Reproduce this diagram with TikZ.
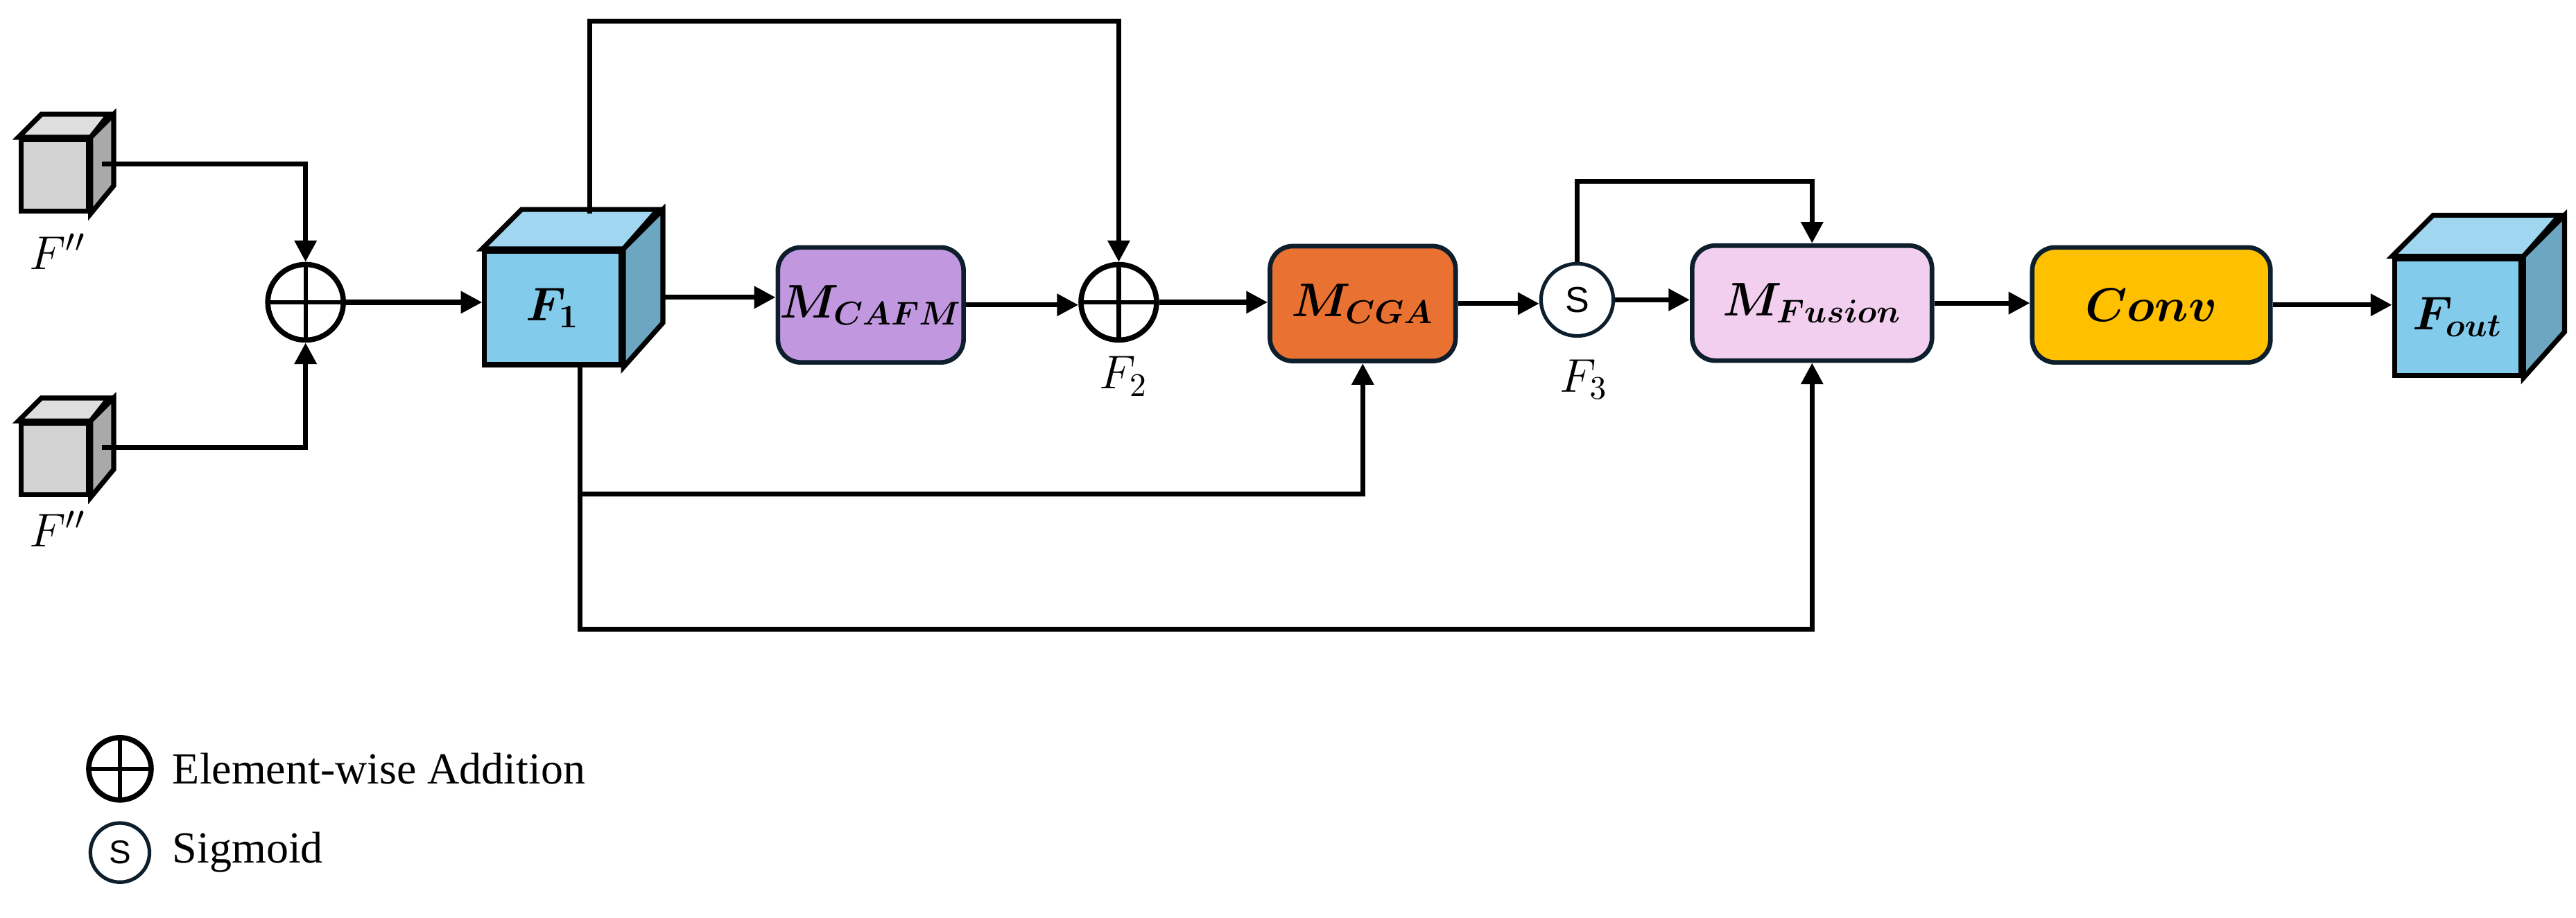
\documentclass[tikz,border=0pt]{standalone}
\usepackage{fontspec}
\usepackage{amsmath}
\setmainfont{Liberation Serif}
\newfontfamily\sansf{Liberation Sans}
\usetikzlibrary{arrows.meta,calc}
\definecolor{navy}{HTML}{0D1F2D}
\definecolor{grayf}{HTML}{D3D3D3}\definecolor{grayt}{HTML}{DEDEDE}\definecolor{grayr}{HTML}{A9A9A9}
\definecolor{bluef}{HTML}{83CBEB}\definecolor{bluet}{HTML}{A0D6EF}\definecolor{bluer}{HTML}{6CA6C1}
\definecolor{cafm}{HTML}{C198DF}\definecolor{cga}{HTML}{E97132}
\definecolor{fus}{HTML}{F2CEEF}\definecolor{conv}{HTML}{FFC000}
\newcommand{\mycube}[7]{% name, pos, w, h, d, colour prefix, text
  \node[cubef, fill=#6f, minimum width=#3*0.5pt, minimum height=#4*0.5pt] (#1) at #2 {#7};
  \draw[cubel, fill=#6t] (#1.north west) -- ++(#5,-#5) -- ++(#3,0) -- (#1.north east) -- cycle;
  \draw[cubel, fill=#6r] (#1.north east) -- ++(#5,-#5) -- ++(0,#4) -- (#1.south east) -- cycle;}
\tikzset{
  x=0.5pt, y=-0.5pt,
  cubef/.style={draw=black, line width=1.5pt, inner sep=0pt, font=\fontsize{14}{16}\selectfont},
  cubel/.style={draw=black, line width=1.5pt, line join=miter},
  blk/.style={draw=navy, line width=1.4pt, rounded corners=7pt, minimum width=113*0.5pt, minimum height=70*0.5pt, inner sep=0pt, font=\fontsize{14}{16}\selectfont},
  conn/.style={line width=1.5pt},
  arr/.style={conn, -{Triangle[length=6.5pt,width=6.5pt]}},
  plus/.style={circle, draw=black, line width=1.6pt, minimum size=46*0.5pt, inner sep=0pt,
    path picture={\draw[line width=1.3pt] (path picture bounding box.north) -- (path picture bounding box.south)
      (path picture bounding box.west) -- (path picture bounding box.east);}},
  sig/.style={circle, draw=navy, line width=1.1pt, minimum size=44*0.5pt, inner sep=0pt, font=\sansf\fontsize{11}{13}\selectfont},
  lab/.style={font=\fontsize{14}{16}\selectfont},
  leg/.style={anchor=west, font=\fontsize{13.5}{16}\selectfont}
}
\begin{document}
\begin{tikzpicture}
\useasboundingbox (0,0) rectangle (1568,558.4);
% input cubes
\mycube{g1}{(33.2,106.8)}{41}{43.5}{14}{gray}{}
\mycube{g2}{(33.2,279.5)}{41}{43.5}{14}{gray}{}
\node[lab] (l1) at (35,153) {$F''$};
\node[lab] (l2) at (35,322) {$F''$};
\node[plus] (add1) at (186,184) {};
\mycube{F1}{(336.5,187.5)}{83}{69}{24}{blue}{$\boldsymbol{F_1}$}
\node[blk, fill=cafm] (cafm) at (530,185.6) {$\boldsymbol{M_{CAFM}}$};
\node[plus] (add2) at (681,184) {};
\node[lab] (lf2) at (684,229) {$F_2$};
\node[blk, fill=cga] (cga) at (829.5,184.8) {$\boldsymbol{M_{CGA}}$};
\node[sig] (sg) at (960,182.5) {S};
\node[lab] (lf3) at (964,231) {$F_3$};
\node[blk, fill=fus, minimum width=146*0.5pt] (fus) at (1103,184.5) {$\boldsymbol{M_{Fusion}}$};
\node[blk, fill=conv, minimum width=145*0.5pt] (cv) at (1309.5,185.6) {$\boldsymbol{Conv}$};
\mycube{Fo}{(1496,193)}{77}{71}{25}{blue}{$\boldsymbol{F_{out}}$}
% connectors
\coordinate (g1r) at ($(g1.east)+(7,-7)$);
\coordinate (g2r) at ($(g2.east)+(7,-7)$);
\draw[arr] (g1r) -| (add1.north);
\draw[arr] (g2r) -| (add1.south);
\draw[arr] (add1.east) -- (F1.west |- add1.east);
\coordinate (F1t) at (359,130);
\coordinate (topl) at (359,13);
\draw[arr] (F1t) -- (topl) -| (add2.north);
\coordinate (F1r) at (404,181);
\draw[arr] (F1r) -- (cafm.west |- F1r);
\draw[arr] (cafm.east) -- (add2.west |- cafm.east);
\draw[arr] (add2.east) -- (cga.west |- add2.east);
\draw[arr] (cga.east) -- (sg.west |- cga.east);
\draw[arr] (sg.east) -- (fus.west |- sg.east);
\coordinate (sl) at (960,110.5);
\draw[arr] (sg.north) -- (sl) -| (fus.north);
\draw[arr] (fus.east) -- (cv.west |- fus.east);
\draw[arr] (cv.east) -- (Fo.west |- cv.east);
\coordinate (F1b) at (353,222);
\coordinate (br) at (353,300.7);
\coordinate (bb) at (353,383);
\draw[arr] (F1b) -- (br) -| (cga.south);
\draw[arr] (br) -- (bb) -| (fus.south);
% legend
\node[plus, minimum size=38*0.5pt] (lg1) at (73,468) {};
\node[leg] (lt1) at (98,468) {Element-wise Addition};
\node[sig, minimum size=36*0.5pt, font=\sansf\fontsize{10}{12}\selectfont] (lg2) at (73,519) {S};
\node[leg] (lt2) at (98,519) {Sigmoid};
\end{tikzpicture}
\end{document}
